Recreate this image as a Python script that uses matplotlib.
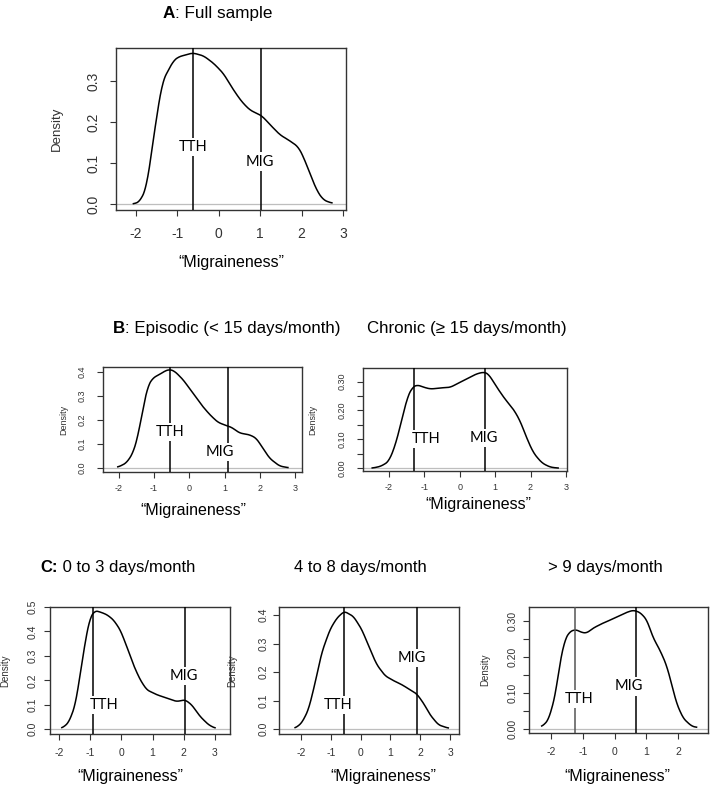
import numpy as np
import matplotlib
matplotlib.use("Agg")
import matplotlib.pyplot as plt

plt.rcParams['font.family'] = ['Liberation Sans', 'DejaVu Sans']

# density curves (x = "Migraineness", y = density)
a_x = [-2.06, -1.90, -1.74, -1.66, -1.52, -1.36, -1.10, -0.98, -0.63, -0.37, -0.13, 0.11, 0.35,
       0.55, 0.75, 1.04, 1.24, 1.48, 1.68, 1.92, 2.04, 2.20, 2.36, 2.52, 2.73]
a_y = [0.000, 0.006, 0.042, 0.100, 0.200, 0.300, 0.350, 0.360, 0.370, 0.363, 0.345, 0.320, 0.280,
       0.251, 0.230, 0.216, 0.194, 0.169, 0.157, 0.140, 0.116, 0.075, 0.034, 0.010, 0.002]

epi_x = [-2.03, -1.79, -1.60, -1.46, -1.32, -1.18, -1.03, -0.84, -0.70, -0.56, -0.42, -0.18, 0.10,
         0.34, 0.58, 0.81, 1.05, 1.19, 1.43, 1.71, 1.90, 2.09, 2.28, 2.56, 2.80]
epi_y = [0.003, 0.020, 0.061, 0.131, 0.243, 0.340, 0.375, 0.389, 0.403, 0.410, 0.403, 0.368, 0.312,
         0.263, 0.222, 0.190, 0.176, 0.170, 0.145, 0.138, 0.124, 0.082, 0.040, 0.008, 0.001]

chr_x = [-2.47, -2.23, -2.00, -1.81, -1.62, -1.48, -1.34, -1.20, -1.01, -0.82, -0.55, -0.26, -0.08,
         0.20, 0.48, 0.69, 0.81, 1.05, 1.28, 1.52, 1.71, 1.89, 2.08, 2.32, 2.55, 2.78]
chr_y = [0.000, 0.006, 0.023, 0.082, 0.175, 0.245, 0.280, 0.289, 0.280, 0.274, 0.278, 0.280, 0.292,
         0.309, 0.327, 0.333, 0.327, 0.280, 0.239, 0.204, 0.163, 0.105, 0.053, 0.018, 0.0035, 0.000]

c1_x = [-1.91, -1.70, -1.49, -1.33, -1.17, -1.01, -0.85, -0.69, -0.47, -0.26, -0.04, 0.17, 0.38,
        0.60, 0.81, 1.13, 1.45, 1.77, 2.04, 2.25, 2.52, 2.79, 3.00]
c1_y = [0.004, 0.025, 0.093, 0.216, 0.352, 0.455, 0.485, 0.480, 0.469, 0.448, 0.407, 0.339, 0.264,
        0.202, 0.161, 0.141, 0.127, 0.113, 0.120, 0.100, 0.052, 0.018, 0.004]

c2_x = [-2.20, -1.98, -1.75, -1.53, -1.31, -1.03, -0.80, -0.55, -0.24, 0.04, 0.32, 0.54, 0.82,
        1.10, 1.38, 1.66, 1.88, 2.11, 2.33, 2.61, 2.94]
c2_y = [0.0035, 0.021, 0.068, 0.161, 0.267, 0.349, 0.389, 0.413, 0.395, 0.349, 0.278, 0.226, 0.187,
        0.170, 0.156, 0.138, 0.124, 0.091, 0.050, 0.015, 0.0035]

c3_x = [-2.29, -2.08, -1.87, -1.72, -1.56, -1.40, -1.21, -1.04, -0.88, -0.67, -0.41, -0.15, 0.12,
        0.38, 0.59, 0.80, 1.01, 1.22, 1.42, 1.63, 1.79, 1.95, 2.16, 2.42, 2.58]
c3_y = [0.0056, 0.024, 0.090, 0.183, 0.249, 0.272, 0.277, 0.269, 0.267, 0.281, 0.293, 0.303, 0.314,
        0.325, 0.331, 0.325, 0.305, 0.253, 0.221, 0.179, 0.127, 0.071, 0.029, 0.0075, 0.0037]

# TTH / MIG reference positions
tth = {"A": -0.63, "B1": -0.55, "B2": -1.29, "C1": -0.92, "C2": -0.55, "C3": -1.25}
mig = {"A": 1.02, "B1": 1.10, "B2": 0.72, "C1": 2.04, "C2": 1.88, "C3": 0.66}

W, H = 713, 789
fig = plt.figure(figsize=(W / 100, H / 100), dpi=100)


def make_ax(l, r, t, b):
    return fig.add_axes([l / W, 1 - b / H, (r - l) / W, (b - t) / H])


def smooth(xs, ys):
    xs = np.asarray(xs)
    ys = np.asarray(ys)
    xn = np.linspace(xs[0], xs[-1], 400)
    # light smoothing of the traced points
    yn = np.interp(xn, xs, ys)
    k = np.ones(15) / 15
    yp = np.pad(yn, 7, mode='edge')
    return xn, np.convolve(yp, k, mode='valid')


def panel(ax, xs, ys, key, xlim, ylim, xticks, yticks, ylabels, tfs,
          tth_pos, mig_pos, ylab_fs, ylab_x, xpad, ypad, tth_col='black'):
    ax.axhline(0, color='#bebebe', lw=0.9, zorder=1)
    xn, yn = smooth(xs, ys)
    ax.plot(xn, yn, color='black', lw=1.1, zorder=2)
    ax.axvline(tth[key], color=tth_col, lw=1.1, zorder=3)
    ax.axvline(mig[key], color='black', lw=1.1, zorder=3)
    bb = dict(facecolor='white', edgecolor='none', pad=1.5)
    ax.text(tth_pos[0], tth_pos[1], "TTH", family='Lato', fontsize=10.5,
            ha='center', va='center', bbox=bb, zorder=4)
    ax.text(mig_pos[0], mig_pos[1], "MIG", family='Lato', fontsize=10.5,
            ha='center', va='center', bbox=bb, zorder=4)
    ax.set_xlim(*xlim)
    ax.set_ylim(*ylim)
    ax.set_xticks(xticks)
    ax.set_xticklabels([str(v) for v in xticks])
    ax.set_yticks(yticks)
    ax.set_yticklabels(ylabels, rotation=90, va='center')
    ax.tick_params(labelsize=tfs, length=4, width=0.8, color='#333333',
                   labelcolor='#333333')
    ax.tick_params(axis='x', pad=xpad)
    ax.tick_params(axis='y', pad=ypad)
    for s in ax.spines.values():
        s.set_linewidth(1.0)
        s.set_color('#333333')
    ax.set_ylabel("Density", fontsize=ylab_fs, color='#333333')
    pos = ax.get_position()
    ax.yaxis.set_label_coords((ylab_x / W - pos.x0) / pos.width, 0.5)


# panel A
axA = make_ax(116, 346, 48, 210)
panel(axA, a_x, a_y, "A", (-2.48, 3.07), (-0.0147, 0.382), [-2, -1, 0, 1, 2, 3],
      [0.0, 0.1, 0.2, 0.3], ["0.0", "0.1", "0.2", "0.3"], 10,
      (-0.63, 0.14), (1.0, 0.104), 9.5, 63, 8, 7)

# panel B episodic
axB1 = make_ax(103, 302, 367, 472)
panel(axB1, epi_x, epi_y, "B1", (-2.45, 3.2), (-0.017, 0.42), [-2, -1, 0, 1, 2, 3],
      [0.0, 0.1, 0.2, 0.3, 0.4], ["0.0", "0.1", "0.2", "0.3", "0.4"], 6.5,
      (-0.55, 0.148), (0.87, 0.066), 6.5, 68, 4.5, 7.5)

# panel B chronic
axB2 = make_ax(363, 567, 368, 471)
b2_ticks = [0.0, 0.05, 0.10, 0.15, 0.20, 0.25, 0.30]
panel(axB2, chr_x, chr_y, "B2", (-2.73, 3.03), (-0.01, 0.347), [-2, -1, 0, 1, 2, 3],
      b2_ticks, ["0.00", "", "0.10", "", "0.20", "", "0.30"], 6.5,
      (-0.94, 0.10), (0.67, 0.104), 6.5, 317, 4.5, 7.5)

# panel C
axC1 = make_ax(50, 230, 607, 734)
panel(axC1, c1_x, c1_y, "C1", (-2.29, 3.48), (-0.02, 0.5), [-2, -1, 0, 1, 2, 3],
      [0.0, 0.1, 0.2, 0.3, 0.4, 0.5], ["0.0", "0.1", "0.2", "0.3", "0.4", "0.5"], 7.5,
      (-0.55, 0.10), (2.0, 0.219), 7, 10, 6, 5)

axC2 = make_ax(279, 459, 607, 734)
panel(axC2, c2_x, c2_y, "C2", (-2.74, 3.3), (-0.017, 0.428), [-2, -1, 0, 1, 2, 3],
      [0.0, 0.1, 0.2, 0.3, 0.4], ["0.0", "0.1", "0.2", "0.3", "0.4"], 7.5,
      (-0.77, 0.085), (1.73, 0.249), 7, 237, 6, 3.5)

axC3 = make_ax(529, 708, 607, 733)
c3_ticks = [0.0, 0.05, 0.10, 0.15, 0.20, 0.25, 0.30]
panel(axC3, c3_x, c3_y, "C3", (-2.69, 2.94), (-0.012, 0.34), [-2, -1, 0, 1, 2],
      c3_ticks, ["0.00", "", "0.10", "", "0.20", "", "0.30"], 7.5,
      (-1.11, 0.083), (0.45, 0.118), 7, 490, 6, 4.5, tth_col='#555555')

# x labels (centre x, centre y in pixels)
xl = "\u201cMigraineness\u201d"
for cx, cy in [(231, 262), (193, 510), (478, 505), (130, 777), (383, 777), (617, 777)]:
    fig.text(cx / W, 1 - cy / H, xl, fontsize=11.5, ha='center', va='center')


def title(x, y, bold, rest, fs=12):
    t = fig.text(x / W, 1 - y / H, bold, fontsize=fs, fontweight='bold',
                 ha='left', va='baseline')
    if rest:
        plt.annotate(rest, xy=(1, 0), xycoords=t, fontsize=fs,
                     ha='left', va='bottom', annotation_clip=False)


title(163, 18, "A", ": Full sample", 12.3)
title(113, 333, "B", ": Episodic (< 15 days/month)", 12.2)
fig.text(367 / W, 1 - 333 / H, "Chronic (\u2265 15 days/month)", fontsize=12.2,
         ha='left', va='baseline')
title(40, 572, "C:", " 0 to 3 days/month", 12)
fig.text(294 / W, 1 - 572 / H, "4 to 8 days/month", fontsize=12, ha='left', va='baseline')
fig.text(548 / W, 1 - 572 / H, "> 9 days/month", fontsize=12, ha='left', va='baseline')

fig.savefig("out.png", dpi=100, facecolor='white')
